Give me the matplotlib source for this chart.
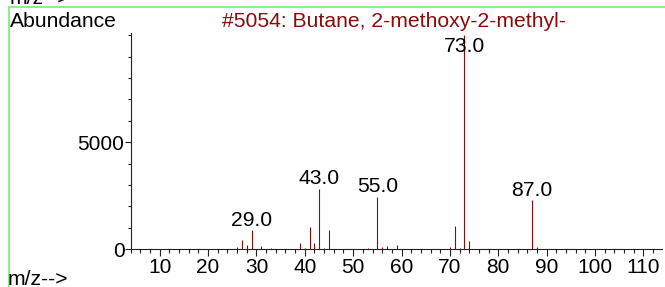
import numpy as np
import matplotlib
matplotlib.use("Agg")
import matplotlib.pyplot as plt
from matplotlib.lines import Line2D
from matplotlib.ticker import MultipleLocator, FixedLocator

plt.rcParams['font.family'] = ['Liberation Sans', 'DejaVu Sans']

# spectrum (m/z, abundance)
mz = [26, 27, 28, 29, 31, 33, 39, 40, 41, 42, 43, 44, 45, 53, 55, 56, 57, 59,
      69, 70, 71, 72, 73, 74, 87, 88]
abund = [100, 420, 215, 900, 140, 60, 290, 50, 1040, 310, 2820, 60, 900, 60,
         2460, 100, 170, 200, 30, 120, 1100, 60, 9999, 390, 2300, 95]
labelled = [29, 43, 55, 73, 87]
title = "#5054: Butane, 2-methoxy-2-methyl-"

W, H = 665, 287
fig = plt.figure(figsize=(W / 100, H / 100), dpi=100)

# axes box in pixels: left 130.7, right 661.7, top 33.3, zero line 249.3
ax = fig.add_axes([130.7 / W, 1 - 249.3 / H, (661.7 - 130.7) / W, (249.3 - 33.3) / H])
red = '#8b0a0a'
ax.vlines(mz, 0, abund, color=red, linewidth=0.8)

ytop = 10090
ax.set_xlim(4.0, 113.8)
ax.set_ylim(0, ytop)

for spine in ['top', 'right']:
    ax.spines[spine].set_visible(False)
for spine in ['left', 'bottom']:
    ax.spines[spine].set_color('#222222')
    ax.spines[spine].set_linewidth(0.8)

ax.xaxis.set_major_locator(MultipleLocator(10))
ax.xaxis.set_minor_locator(MultipleLocator(2))
ax.yaxis.set_major_locator(FixedLocator([0, 5000]))
ax.yaxis.set_minor_locator(FixedLocator(np.arange(1000, 10001, 1000)))
ax.tick_params(axis='x', which='major', length=5, width=0.8, color='#222222',
               labelsize=15, pad=1)
ax.tick_params(axis='x', which='minor', length=3, width=0.8, color='#222222')
ax.tick_params(axis='y', which='major', length=4.5, width=0.8, color='#222222',
               labelsize=15, pad=0)
ax.tick_params(axis='y', which='minor', length=2, width=0.8, color='#222222')

# peak labels sit just above the peak, clamped inside the plot
px = (249.3 - 33.3) / ytop  # pixels per abundance unit
for m in labelled:
    h = abund[mz.index(m)]
    y = min(h + 4.5 / px, ytop - 19 / px)
    ax.text(m, y, "%.1f" % m, ha='center', va='baseline', fontsize=15.2,
            color='black')

# figure texts
fig.text(10 / W, 1 - 26.7 / H, "Abundance", ha='left', va='baseline', fontsize=15.2)
fig.text(394 / W, 1 - 26.7 / H, title, ha='center', va='baseline', fontsize=15.2,
         color=red)
fig.text(8 / W, 1 - 285 / H, "m/z-->", ha='left', va='baseline', fontsize=15.2)
fig.text(10 / W, 1 - 3.5 / H, "m/z-->", ha='left', va='baseline', fontsize=15.2)

# green frame of the panel
green = '#7cf27c'
fig.add_artist(Line2D([9.3 / W, 1], [1 - 6.5 / H, 1 - 6.5 / H], color=green,
                      linewidth=1.3, transform=fig.transFigure))
fig.add_artist(Line2D([9.3 / W, 9.3 / W], [1 - 6.5 / H, 0], color=green,
                      linewidth=1.3, transform=fig.transFigure))

fig.savefig('out.png', dpi=100)
